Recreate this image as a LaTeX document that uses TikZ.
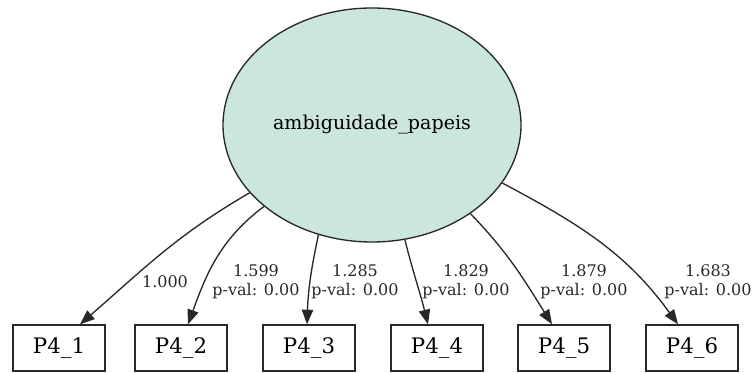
\documentclass[tikz,border=0pt]{standalone}
\usepackage{fontspec}
\setmainfont{DejaVu Serif}
\usetikzlibrary{positioning,arrows.meta,shapes.geometric}

\definecolor{latfill}{RGB}{203,230,223}
\definecolor{edgegray}{RGB}{40,40,40}

\begin{document}
\begin{tikzpicture}[
  x=0.75pt, y=-0.75pt,
  lat/.style={draw=edgegray, ellipse, fill=latfill, line width=1pt, inner sep=0pt,
    minimum width=223.5pt, minimum height=175.5pt, font=\fontsize{14.3}{16}\selectfont},
  obs/.style={draw=edgegray, rectangle, line width=1pt, inner sep=0pt,
    minimum width=69pt, minimum height=34.5pt, font=\fontsize{16}{18}\selectfont},
  lbl/.style={align=center, inner sep=0pt, text=edgegray, font=\fontsize{12}{14.3}\selectfont},
  arrow/.style={-{Triangle[length=11pt,width=8.5pt]}, draw=edgegray, line width=1pt}
]
\useasboundingbox (0,0) rectangle (753,373);

\node[lat] (lat) at (372,125) {ambiguidade\_papeis};

\node[obs] (p1) at (59,348) {P4\_1};
\node[obs] (p2) at (181,348) {P4\_2};
\node[obs] (p3) at (309,348) {P4\_3};
\node[obs] (p4) at (437,348) {P4\_4};
\node[obs] (p5) at (564,348) {P4\_5};
\node[obs] (p6) at (692,348) {P4\_6};

\draw[arrow] (lat.209.8) to[out=210, in=41] ([xshift=15.75pt]p1.north);
\draw[arrow] (lat.217.3) to[out=217, in=70] ([xshift=5.25pt]p2.north);
\draw[arrow] (lat.244.5) to[out=258, in=88] ([xshift=-1.5pt]p3.north);
\draw[arrow] (lat.286) to[out=-76, in=104] ([xshift=-6.75pt]p4.north);
\draw[arrow] (lat.318.1) to[out=-46, in=122] ([xshift=-9pt]p5.north);
\draw[arrow] (lat.336.5) to[out=-28, in=126] ([xshift=-10.5pt]p6.north);

\node[lbl] (l1) at (165,282) {1.000};
\node[lbl] (l2) at (256,282) {1.599\\p-val: 0.00};
\node[lbl] (l3) at (355,282) {1.285\\p-val: 0.00};
\node[lbl] (l4) at (466,282) {1.829\\p-val: 0.00};
\node[lbl] (l5) at (584,282) {1.879\\p-val: 0.00};
\node[lbl] (l6) at (708,282) {1.683\\p-val: 0.00};
\end{tikzpicture}
\end{document}
